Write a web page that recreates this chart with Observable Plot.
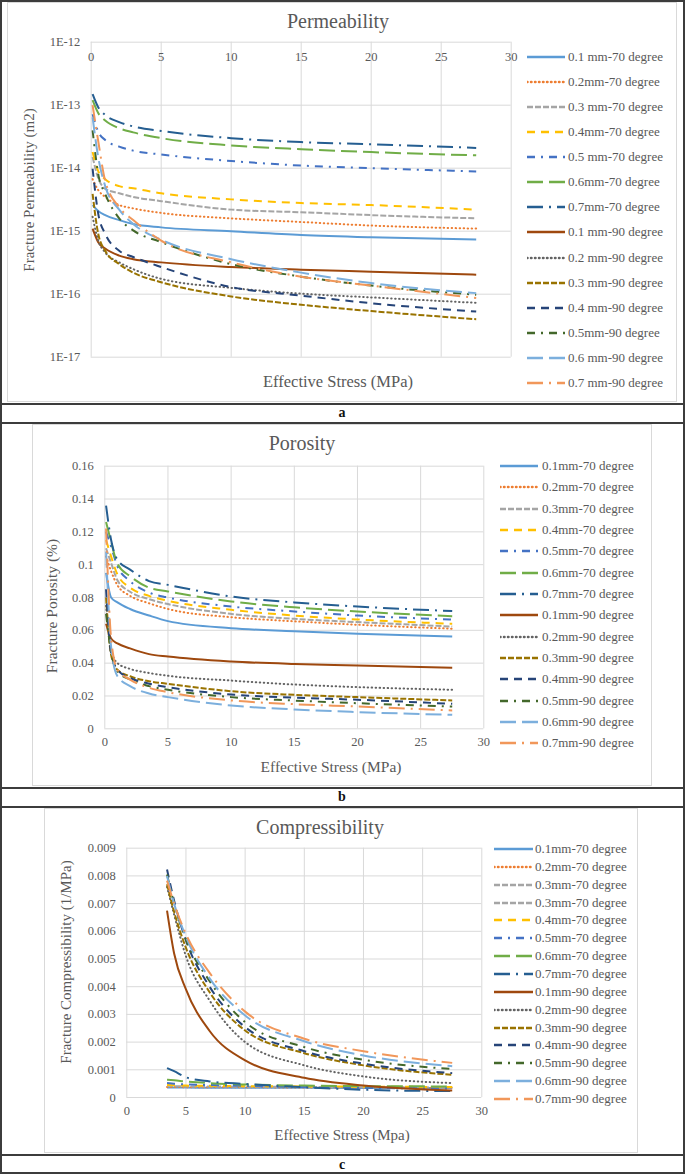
<!DOCTYPE html>
<html>
<head>
<meta charset="utf-8">
<script src="https://cdn.jsdelivr.net/npm/d3@7"></script>
<script src="https://cdn.jsdelivr.net/npm/@observablehq/plot@0.6"></script>
<style>
  html, body { margin: 0; padding: 0; background: #fff; }
  #fig { position: relative; width: 685px; height: 1174px; background: #fff; font-family: "Liberation Serif", "Times New Roman", serif; overflow: hidden; }
  .abs { position: absolute; }
  .ctr { position: absolute; transform: translate(-50%, -50%); white-space: nowrap; color: #595959; }
  .rot { position: absolute; transform: translate(-50%, -50%) rotate(-90deg); white-space: nowrap; color: #595959; }
  .hline { position: absolute; left: 0; width: 685px; height: 2px; background: #3c3c3c; }
  .frame { position: absolute; border: 1px solid #d9d9d9; box-sizing: border-box; }
  .leg { position: absolute; display: flex; align-items: center; font-size: 13px; color: #595959; white-space: nowrap; height: 16px; }
  .panel-label { position: absolute; transform: translate(-50%, -50%); font-weight: bold; font-size: 14px; color: #111; }
</style>
</head>
<body>
<div id="fig"></div>
<script>
// ---------- data ----------
const seriesNames = ["0.1 mm-70 degree","0.2mm-70 degree","0.3 mm-70 degree","0.4mm-70 degree","0.5 mm-70 degree","0.6mm-70 degree","0.7mm-70 degree",
  "0.1 mm-90 degree","0.2 mm-90 degree","0.3 mm-90 degree","0.4 mm-90 degree","0.5mm-90 degree","0.6 mm-90 degree","0.7 mm-90 degree"];
const seriesNamesB = ["0.1mm-70 degree","0.2mm-70 degree","0.3mm-70 degree","0.4mm-70 degree","0.5mm-70 degree","0.6mm-70 degree","0.7mm-70 degree",
  "0.1mm-90 degree","0.2mm-90 degree","0.3mm-90 degree","0.4mm-90 degree","0.5mm-90 degree","0.6mm-90 degree","0.7mm-90 degree"];
const legendNamesC = ["0.1mm-70 degree","0.2mm-70 degree","0.3mm-70 degree","0.3mm-70 degree","0.4mm-70 degree","0.5mm-70 degree","0.6mm-70 degree","0.7mm-70 degree",
  "0.1mm-90 degree","0.2mm-90 degree","0.3mm-90 degree","0.4mm-90 degree","0.5mm-90 degree","0.6mm-90 degree","0.7mm-90 degree"];
const legendSeriesC = [0,1,2,2,3,4,5,6,7,8,9,10,11,12,13];

const colors = ["#5B9BD5","#ED7D31","#A5A5A5","#FFC000","#4472C4","#70AD47","#255E91",
  "#9E480E","#636363","#997300","#264478","#43682B","#7CAFDD","#F1975A"];
// line styles: solid, round dot, square dash, dash, dash-dot, long dash, long dash-dot
const dashes = ["none","0.5,3.5","6,2","8,6","8,6,2,6","16,6","16,6,2,6",
  "none","0.5,3.5","6,2","8,6","8,6,2,6","16,6","16,6,2,6"];

// Panel a: permeability (m2)
const stressPerm = [0.1, 0.5, 1, 2, 3, 5, 10, 15, 20, 27.5];
const permeability = [
  [2.6e-15, 2.1e-15, 1.8e-15, 1.5e-15, 1.3e-15, 1.15e-15, 1.0e-15, 8.7e-16, 8.0e-16, 7.4e-16],
  [6.7e-15, 4.5e-15, 3.5e-15, 2.6e-15, 2.3e-15, 1.95e-15, 1.6e-15, 1.4e-15, 1.23e-15, 1.1e-15],
  [1.5e-14, 7e-15, 4.7e-15, 4e-15, 3.5e-15, 3e-15, 2.2e-15, 2e-15, 1.8e-15, 1.6e-15],
  [1.8e-14, 9e-15, 6.7e-15, 5.2e-15, 4.8e-15, 4e-15, 3.2e-15, 2.8e-15, 2.6e-15, 2.2e-15],
  [7.2e-14, 3.8e-14, 2.8e-14, 2.2e-14, 1.9e-14, 1.65e-14, 1.3e-14, 1.1e-14, 1.0e-14, 8.9e-15],
  [1.2e-13, 7.5e-14, 5.7e-14, 4.3e-14, 3.7e-14, 3.0e-14, 2.3e-14, 2.0e-14, 1.8e-14, 1.6e-14],
  [1.5e-13, 9.3e-14, 7.0e-14, 5.4e-14, 4.6e-14, 3.9e-14, 3.0e-14, 2.6e-14, 2.4e-14, 2.1e-14],
  [1.1e-15, 6.7e-16, 5.3e-16, 4.1e-16, 3.6e-16, 3.2e-16, 2.7e-16, 2.45e-16, 2.28e-16, 2.04e-16],
  [1.7e-15, 7.1e-16, 4.6e-16, 3.2e-16, 2.5e-16, 1.75e-16, 1.26e-16, 1.02e-16, 8.9e-17, 7.3e-17],
  [3.9e-15, 9.1e-16, 4.9e-16, 3.0e-16, 2.2e-16, 1.55e-16, 9.2e-17, 6.8e-17, 5.4e-17, 4.0e-17],
  [9.8e-15, 1.9e-15, 9.1e-16, 4.9e-16, 3.9e-16, 2.7e-16, 1.3e-16, 9.5e-17, 7.2e-17, 5.3e-17],
  [4.0e-14, 8.1e-15, 3.9e-15, 1.6e-15, 1.03e-15, 6.7e-16, 3.0e-16, 1.9e-16, 1.37e-16, 9.8e-17],
  [6.4e-14, 1.5e-14, 5.2e-15, 2.2e-15, 1.3e-15, 7.3e-16, 3.6e-16, 2.2e-16, 1.5e-16, 1.04e-16],
  [1.0e-13, 2.7e-14, 6.3e-15, 2.4e-15, 1.5e-15, 7.1e-16, 3.2e-16, 1.9e-16, 1.37e-16, 8.7e-17]
];
const permTicks = [1e-17, 1e-16, 1e-15, 1e-14, 1e-13, 1e-12];
const permTickLabels = ["1E-17","1E-16","1E-15","1E-14","1E-13","1E-12"];

// Panel b: porosity
const stressPor = [0.1, 0.5, 1, 2, 3.5, 5, 10, 15, 20, 27.5];
const porosity = [
  [0.095, 0.080, 0.077, 0.073, 0.069, 0.0656, 0.0613, 0.0595, 0.0579, 0.0562],
  [0.105, 0.096, 0.0875, 0.081, 0.0765, 0.073, 0.068, 0.0655, 0.0634, 0.061],
  [0.110, 0.101, 0.0905, 0.0835, 0.079, 0.076, 0.070, 0.067, 0.065, 0.0623],
  [0.115, 0.105, 0.094, 0.086, 0.081, 0.078, 0.0725, 0.069, 0.0666, 0.064],
  [0.120, 0.111, 0.099, 0.090, 0.083, 0.080, 0.0745, 0.0715, 0.069, 0.0666],
  [0.126, 0.114, 0.1005, 0.093, 0.086, 0.0837, 0.0776, 0.074, 0.0715, 0.0686],
  [0.136, 0.115, 0.103, 0.097, 0.090, 0.0877, 0.0806, 0.077, 0.0745, 0.0717],
  [0.064, 0.055, 0.052, 0.049, 0.0455, 0.044, 0.041, 0.0395, 0.0386, 0.0372],
  [0.075, 0.048, 0.040, 0.0365, 0.034, 0.0323, 0.0294, 0.027, 0.0254, 0.0238],
  [0.080, 0.045, 0.036, 0.032, 0.029, 0.0274, 0.0229, 0.0207, 0.0193, 0.0173],
  [0.085, 0.046, 0.036, 0.031, 0.0275, 0.0254, 0.0209, 0.019, 0.0177, 0.0152],
  [0.070, 0.047, 0.035, 0.030, 0.026, 0.0238, 0.0193, 0.0172, 0.0156, 0.0136],
  [0.108, 0.050, 0.032, 0.026, 0.0215, 0.0193, 0.0142, 0.0118, 0.0102, 0.0085],
  [0.122, 0.055, 0.036, 0.030, 0.025, 0.0223, 0.0173, 0.015, 0.0136, 0.0112]
];
const porTicks = [0, 0.02, 0.04, 0.06, 0.08, 0.1, 0.12, 0.14, 0.16];

// Panel c: compressibility (1/MPa)
const stressComp = [3.4, 4, 5, 7, 10, 15, 20, 27.5];
const compressibility = [
  [0.00036, 0.00036, 0.00036, 0.00035, 0.00035, 0.00035, 0.00034, 0.00034],
  [0.00038, 0.00038, 0.00037, 0.00037, 0.00037, 0.00036, 0.00036, 0.00035],
  [0.00042, 0.00041, 0.00040, 0.00040, 0.00039, 0.00038, 0.00037, 0.00036],
  [0.00045, 0.00044, 0.00043, 0.00042, 0.00041, 0.00040, 0.00039, 0.00038],
  [0.00052, 0.00050, 0.00047, 0.00045, 0.00042, 0.00038, 0.00035, 0.00032],
  [0.00064, 0.00062, 0.00058, 0.00052, 0.00047, 0.00043, 0.00041, 0.00040],
  [0.00106, 0.00095, 0.00073, 0.00058, 0.00049, 0.00037, 0.00028, 0.00023],
  [0.00675, 0.0052, 0.0039, 0.0024, 0.00134, 0.00071, 0.00043, 0.00025],
  [0.0076, 0.0066, 0.0051, 0.0035, 0.0020, 0.00116, 0.00076, 0.00052],
  [0.0077, 0.0067, 0.0054, 0.0038, 0.00242, 0.0016, 0.00116, 0.00082],
  [0.00823, 0.0071, 0.00567, 0.0040, 0.00254, 0.00167, 0.00122, 0.00088],
  [0.00805, 0.0070, 0.0057, 0.0042, 0.00272, 0.00182, 0.00136, 0.00103],
  [0.0080, 0.0070, 0.0058, 0.0043, 0.00296, 0.00203, 0.00152, 0.00113],
  [0.00783, 0.0070, 0.0059, 0.0045, 0.0031, 0.00212, 0.00167, 0.00125]
];
const compTicks = [0, 0.001, 0.002, 0.003, 0.004, 0.005, 0.006, 0.007, 0.008, 0.009];
const stressTicks = [0, 5, 10, 15, 20, 25, 30];

// ---------- helpers ----------
const fig = document.getElementById("fig");
function add(html) { fig.insertAdjacentHTML("beforeend", html); }
const gray = "#595959", grid = "#d9d9d9";

function seriesMarks(xs, rows) {
  return rows.map((vals, i) => Plot.line(vals, {
    x: (d, j) => xs[j], y: d => d,
    stroke: colors[i], strokeWidth: 2,
    strokeDasharray: dashes[i] === "none" ? undefined : dashes[i],
    strokeLinecap: dashes[i] === "0.5,3.5" ? "round" : "butt",
    curve: "monotone-x"
  }));
}

function place(svg, left, top) {
  svg.style.position = "absolute";
  svg.style.left = left + "px";
  svg.style.top = top + "px";
  fig.appendChild(svg);
}

function legend(names, idx, x0, y0, step, swLeft, swRight, textLeft) {
  names.forEach((n, k) => {
    const i = idx[k];
    const w = swRight - swLeft;
    const dash = dashes[i] === "none" ? "" : `stroke-dasharray="${dashes[i]}"`;
    const cap = dashes[i] === "0.5,3.5" ? "round" : "butt";
    add(`<div class="leg" style="left:${swLeft}px;top:${y0 + step * k - 8}px;">
      <svg width="${w}" height="16" style="display:block"><line x1="0" y1="8" x2="${w}" y2="8" stroke="${colors[i]}" stroke-width="2.5" ${dash} stroke-linecap="${cap}"/></svg>
      <span style="margin-left:${textLeft - swRight}px">${n}</span></div>`);
  });
}

// ---------- borders & frames ----------
add(`<div class="abs" style="left:0;top:0;width:685px;height:1174px;border:2px solid #3c3c3c;box-sizing:border-box;"></div>`);
add(`<div class="frame" style="left:7px;top:2px;width:670px;height:400px;"></div>`);
add(`<div class="hline" style="top:403px"></div>`);
add(`<div class="hline" style="top:422px"></div>`);
add(`<div class="frame" style="left:32px;top:424px;width:620px;height:362px;"></div>`);
add(`<div class="hline" style="top:787px"></div>`);
add(`<div class="hline" style="top:806px"></div>`);
add(`<div class="frame" style="left:44px;top:808px;width:594px;height:345px;"></div>`);
add(`<div class="hline" style="top:1154px"></div>`);
add(`<div class="panel-label" style="left:342px;top:413px">a</div>`);
add(`<div class="panel-label" style="left:342px;top:797px">b</div>`);
add(`<div class="panel-label" style="left:342px;top:1165px">c</div>`);

const plotStyle = {background: "transparent", fontFamily: "Liberation Serif, Times New Roman, serif", fontSize: "12.5px", color: gray, overflow: "visible"};

// ---------- panel a ----------
const pa = Plot.plot({
  width: 520, height: 400,
  marginTop: 41.7, marginLeft: 90.7, marginRight: 9.3, marginBottom: 43.3,
  style: plotStyle,
  x: {domain: [0, 30], axis: null},
  y: {type: "log", domain: [1e-17, 1e-12]},
  marks: [
    Plot.ruleX(stressTicks, {stroke: grid, strokeWidth: 1}),
    Plot.ruleY(permTicks, {stroke: grid, strokeWidth: 1}),
    Plot.axisY({ticks: permTicks, tickFormat: (d) => permTickLabels[permTicks.indexOf(d)], tickSize: 0, tickPadding: 11, label: null, fill: gray}),
    Plot.text(stressTicks, {x: d => d, text: d => String(d), frameAnchor: "top", dy: 14.5, lineAnchor: "middle", fill: gray}),
    ...seriesMarks(stressPerm, permeability)
  ]
});
place(pa, 0, 0);
add(`<div class="ctr" style="left:338px;top:21px;font-size:20px">Permeability</div>`);
add(`<div class="ctr" style="left:338px;top:382px;font-size:16.5px">Effective Stress (MPa)</div>`);
add(`<div class="rot" style="left:29px;top:190px;font-size:15px">Fracture Permeability (m2)</div>`);
legend(seriesNames, d3.range(14), 0, 57, 25.07, 527, 565, 568);

// ---------- panel b ----------
const pb = Plot.plot({
  width: 490, height: 340,
  marginTop: 41.7, marginLeft: 104.3, marginRight: 6.7, marginBottom: 35.7,
  style: plotStyle,
  x: {domain: [0, 30]},
  y: {domain: [0, 0.16]},
  marks: [
    Plot.ruleX(stressTicks, {stroke: grid, strokeWidth: 1}),
    Plot.ruleY(porTicks, {stroke: grid, strokeWidth: 1}),
    Plot.axisY({ticks: porTicks, tickFormat: d => String(Math.round(d * 1000) / 1000), tickSize: 0, tickPadding: 11, label: null, fill: gray}),
    Plot.axisX({ticks: stressTicks, tickFormat: d => String(d), tickSize: 0, tickPadding: 8.5, label: null, fill: gray}),
    ...seriesMarks(stressPor, porosity)
  ]
});
place(pb, 0, 424);
add(`<div class="ctr" style="left:302px;top:443px;font-size:20px">Porosity</div>`);
add(`<div class="ctr" style="left:331px;top:767px;font-size:15.5px">Effective Stress (MPa)</div>`);
add(`<div class="rot" style="left:52px;top:606px;font-size:15.5px">Fracture Porosity (%)</div>`);
legend(seriesNamesB, d3.range(14), 0, 466, 21.33, 500, 538, 542);

// ---------- panel c ----------
const pc = Plot.plot({
  width: 488, height: 330,
  marginTop: 40.7, marginLeft: 126.3, marginRight: 6.7, marginBottom: 40,
  style: plotStyle,
  x: {domain: [0, 30]},
  y: {domain: [0, 0.009]},
  marks: [
    Plot.ruleX(stressTicks, {stroke: grid, strokeWidth: 1}),
    Plot.ruleY(compTicks, {stroke: grid, strokeWidth: 1}),
    Plot.axisY({ticks: compTicks, tickFormat: d => String(Math.round(d * 10000) / 10000), tickSize: 0, tickPadding: 11, label: null, fill: gray}),
    Plot.axisX({ticks: stressTicks, tickFormat: d => String(d), tickSize: 0, tickPadding: 8.5, label: null, fill: gray}),
    ...seriesMarks(stressComp, compressibility)
  ]
});
place(pc, 0, 807);
add(`<div class="ctr" style="left:320px;top:827px;font-size:20px">Compressibility</div>`);
add(`<div class="ctr" style="left:342px;top:1135px;font-size:15px">Effective Stress (Mpa)</div>`);
add(`<div class="rot" style="left:66px;top:962px;font-size:15px">Fracture Compressibility (1/MPa)</div>`);
legend(legendNamesC, legendSeriesC, 0, 849, 17.86, 494, 533, 535);
</script>
</body>
</html>
